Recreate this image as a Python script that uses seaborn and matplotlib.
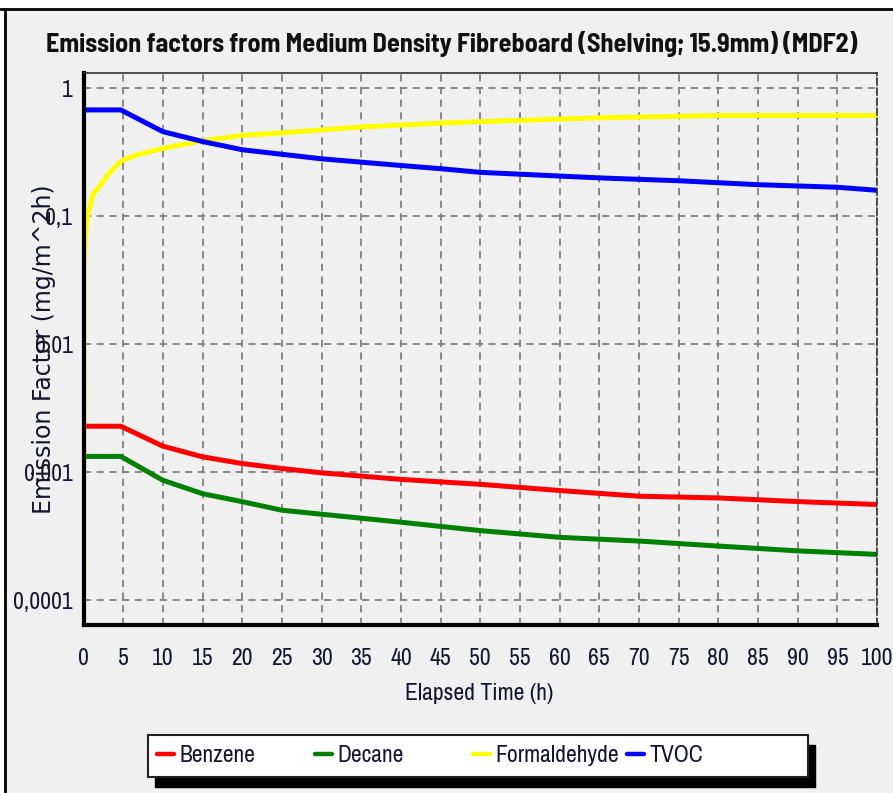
import numpy as np
import pandas as pd
import matplotlib
matplotlib.use("Agg")
import matplotlib.pyplot as plt
import seaborn as sns
from matplotlib.patches import Rectangle
from matplotlib.lines import Line2D
from matplotlib.ticker import FixedLocator, FixedFormatter, NullFormatter

title = "Emission factors from Medium Density Fibreboard (Shelving; 15.9mm) (MDF2)"
series_names = ["Benzene", "Decane", "Formaldehyde", "TVOC"]
series_colors = ["#FF0000", "#008000", "#FFFF00", "#0000FF"]

benzene_t = [0, 4.7, 10, 15, 20, 25, 30, 40, 50, 60, 70, 80, 90, 100]
benzene_v = [0.00229, 0.00229, 0.00160, 0.00132, 0.00117, 0.00107, 0.00099, 0.00088,
             0.000805, 0.00072, 0.00065, 0.00063, 0.00059, 0.00056]

decane_t = [0, 4.7, 10, 15, 20, 25, 30, 40, 50, 60, 70, 80, 90, 100]
decane_v = [0.00133, 0.00133, 0.000866, 0.00068, 0.000589, 0.000505, 0.00047, 0.000407,
            0.00035, 0.00031, 0.00029, 0.000265, 0.000243, 0.000228]

formaldehyde_t = [0, 0.05, 0.25, 0.5, 1.2, 2, 3, 4.7, 6.5, 10, 15, 20, 25, 35, 46, 65, 80, 100]
formaldehyde_v = [0.00005, 0.045, 0.073, 0.10, 0.15, 0.17, 0.21, 0.27, 0.30, 0.34, 0.39,
                  0.43, 0.45, 0.50, 0.54, 0.59, 0.615, 0.615]

tvoc_t = [0, 4.7, 10, 15, 20, 30, 40, 45, 50, 65, 75, 85, 95, 100]
tvoc_v = [0.68, 0.68, 0.46, 0.385, 0.332, 0.282, 0.25, 0.236, 0.221, 0.20, 0.19, 0.177,
          0.169, 0.16]

x_ticks = list(range(0, 101, 5))
y_ticks = [0.0001, 0.001, 0.01, 0.1, 1]
y_tick_labels = ["0,0001", "0,001", "0,01", "0,1", "1"]
x_label = "Elapsed Time (h)"
y_label = "Emission Factor (mg/m^2h)"

frames = []
for name, t, v in [("Benzene", benzene_t, benzene_v), ("Decane", decane_t, decane_v),
                   ("Formaldehyde", formaldehyde_t, formaldehyde_v), ("TVOC", tvoc_t, tvoc_v)]:
    frames.append(pd.DataFrame({"t": t, "v": v, "series": name}))
df = pd.concat(frames, ignore_index=True)

sns.set_theme(style="white")
BG = "#F0F0F0"
narrow = ["Archivo Narrow", "Roboto Condensed", "DejaVu Sans"]
plt.rcParams["font.family"] = narrow

W, H = 893, 793
ax_l, ax_r, ax_t, ax_b = 83.5, 877, 73, 624.5
fig = plt.figure(figsize=(W / 100, H / 100), dpi=100, facecolor=BG)
ax = fig.add_axes([ax_l / W, 1 - ax_b / H, (ax_r - ax_l) / W, (ax_b - ax_t) / H])
ax.set_facecolor(BG)

sns.lineplot(data=df, x="t", y="v", hue="series", hue_order=series_names,
             palette=dict(zip(series_names, series_colors)), estimator=None,
             sort=False, linewidth=3.6, legend=False, ax=ax)

ax.set_yscale("log")
ax.set_xlim(0, 100)
ax.set_ylim(10 ** (-4.19), 10 ** 0.121)

ax.xaxis.set_major_locator(FixedLocator(x_ticks))
ax.xaxis.set_minor_locator(FixedLocator(list(range(0, 101))))
ax.yaxis.set_major_locator(FixedLocator(y_ticks))
ax.yaxis.set_major_formatter(FixedFormatter(y_tick_labels))
minor_y = [m * 10.0 ** e for e in range(-5, 1) for m in (3.2, 5.5, 7.8)]
ax.yaxis.set_minor_locator(FixedLocator(minor_y))
ax.yaxis.set_minor_formatter(NullFormatter())

ax.tick_params(axis="x", which="major", direction="out", length=8, width=1.2,
               color="#444444", labelsize=17, pad=9, labelcolor="#151530")
ax.tick_params(axis="x", which="minor", direction="out", length=4, width=1,
               color="#444444")
ax.tick_params(axis="y", which="major", direction="out", length=5, width=1.2,
               color="#555555", labelsize=17, pad=3, labelcolor="#151530")
ax.tick_params(axis="y", which="minor", direction="out", length=3, width=1,
               color="#555555")

ax.grid(True, which="major", color="#808080", linestyle=(0, (4, 3)), linewidth=1.3)

for side in ["left", "bottom"]:
    ax.spines[side].set_color("black")
    ax.spines[side].set_linewidth(3)
ax.spines["top"].set_color("#333333")
ax.spines["top"].set_linewidth(1.2)
ax.spines["right"].set_color("#333333")
ax.spines["right"].set_linewidth(1.2)
ax.spines["right"].set_linestyle((0, (4, 2)))

ax.set_xlabel(x_label, fontsize=17, color="#151530")
ax.xaxis.set_label_coords((479 - ax_l) / (ax_r - ax_l), (ax_b - 693) / (ax_b - ax_t))
ax.xaxis.label.set_va("center")
ax.set_ylabel(y_label, fontsize=17, color="#151530", family=["DejaVu Sans"])
ax.yaxis.set_label_coords((44 - ax_l) / (ax_r - ax_l), (ax_b - 349) / (ax_b - ax_t))
ax.yaxis.label.set_va("center")

fig.text(452 / W, 1 - 44 / H, title, ha="center", va="center", fontsize=18.9,
         fontweight="bold", color="#111111",
         family=["Barlow Semi Condensed", "Asap Condensed", "Archivo Narrow", "DejaVu Sans"])

# legend box with shadow
lx0, ly0, lx1, ly1 = 148, 735, 808, 777
fig.add_artist(Rectangle(((lx0 + 7) / W, 1 - (ly1 + 10) / H), (lx1 - lx0) / W, (ly1 - ly0) / H,
                         transform=fig.transFigure, facecolor="black", edgecolor="black", zorder=5))
fig.add_artist(Rectangle((lx0 / W, 1 - ly1 / H), (lx1 - lx0) / W, (ly1 - ly0) / H,
                         transform=fig.transFigure, facecolor="white", edgecolor="#222222",
                         linewidth=1.5, zorder=6))
entry_x = [157, 315, 473, 627]
for name, color, ex in zip(series_names, series_colors, entry_x):
    h = [Line2D([], [], color=color, linewidth=3.2)]
    lg = fig.legend(h, [name], loc="center left", bbox_to_anchor=(ex / W, 1 - 756 / H),
                    frameon=False, fontsize=17, handlelength=0.72, handletextpad=0.22,
                    borderpad=0, borderaxespad=0, labelcolor="#151530")
    lg.set_zorder(7)

# screenshot border
fig.add_artist(Rectangle((0, 1 - 8 / H), 1, 8 / H, transform=fig.transFigure,
                         facecolor="white", edgecolor="none", zorder=8))
fig.add_artist(Rectangle((0, 0), 4 / W, 1, transform=fig.transFigure,
                         facecolor="white", edgecolor="none", zorder=8))
fig.add_artist(Line2D([0, 1], [1 - 8.7 / H, 1 - 8.7 / H], transform=fig.transFigure,
                      color="black", linewidth=2.0, zorder=9))
fig.add_artist(Line2D([5.3 / W, 5.3 / W], [0, 1 - 8.7 / H], transform=fig.transFigure,
                      color="black", linewidth=2.0, zorder=9))

fig.savefig("out.png", dpi=100, facecolor=BG)
